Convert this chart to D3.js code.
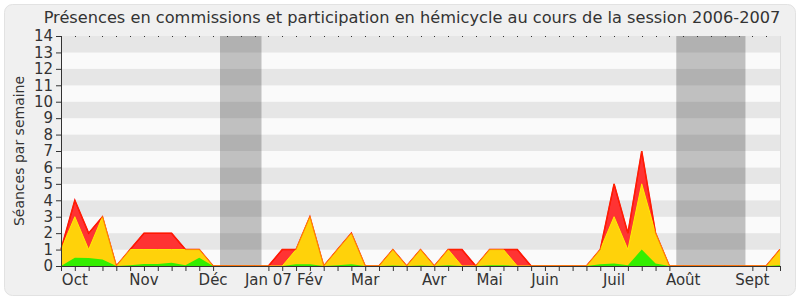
<!DOCTYPE html>
<html><head><meta charset="utf-8">
<script src="https://cdn.jsdelivr.net/npm/d3@7"></script>
<style>body{margin:0;background:#fff}svg{display:block}text{font-family:"DejaVu Sans",sans-serif;fill:#333}</style>
</head><body><svg id="c" width="800" height="300"></svg>
<script>
const title = "Présences en commissions et participation en hémicycle au cours de la session 2006-2007";
const yTitle = "Séances par semaine";
const weeks = d3.range(53);
const total = [1,4,2,3,0,1,2,2,2,1,1,0,0,0,0,0,1,1,3,0,1,2,0,0,1,0,1,0,1,1,0,1,1,1,0,0,0,0,0,1,5,2,7,2,0,0,0,0,0,0,0,0,1];
const hemi  = [1,3,1,3,0,1,1,1,1,1,1,0,0,0,0,0,0,1,3,0,1,2,0,0,1,0,1,0,1,0,0,1,1,0,0,0,0,0,0,1,3,1,5,2,0,0,0,0,0,0,0,0,1];
const comm  = [0,0.5,0.48,0.4,0,0.05,0.12,0.12,0.2,0.05,0.5,0,0,0,0,0,0,0.1,0.1,0,0.05,0.1,0,0,0.03,0,0.03,0,0.05,0,0,0.05,0.05,0,0,0,0,0,0,0.1,0.15,0.05,1,0.15,0,0,0,0,0,0,0,0,0.05];
const monthLabels = ["Oct","Nov","Déc","Jan 07","Fév","Mar","Avr","Mai","Juin","Juil","Août","Sept"];
const monthWeeks  = [1,6,11,15,18,22,27,31,35,40,45,50];
const vacations = [[11.5,14.5],[44.5,49.5]];
const yTicks = d3.range(0,15);

const svg = d3.select("#c");
const L=61,R=780,T=36,B=266;
const x = d3.scaleLinear().domain([0,52]).range([L,R]);
const y = d3.scaleLinear().domain([0,14]).range([B,T]);

svg.append("rect").attr("x",4.5).attr("y",4.5).attr("width",791).attr("height",291).attr("rx",8)
  .attr("fill","#f0f0f0").attr("stroke","#e2e2e2");

// bands
yTicks.slice(0,14).forEach(k=>{
  svg.append("rect").attr("x",L).attr("width",R-L).attr("y",y(k+1)).attr("height",y(k)-y(k+1))
    .attr("fill", k%2===1 ? "#e6e6e6" : "#fafafa");
});
// vacations
vacations.forEach(v=>{
  svg.append("rect").attr("x",x(v[0])).attr("width",x(v[1])-x(v[0])).attr("y",T).attr("height",B-T)
    .attr("fill","rgba(20,20,20,0.25)");
});

const area = d=>d3.area().x((v,i)=>x(i)).y0(y(0)).y1(v=>y(v))(d);
const line = d=>d3.line().x((v,i)=>x(i)).y(v=>y(v))(d);
svg.append("path").attr("d",area(total)).attr("fill","#ff3333");
svg.append("path").attr("d",line(total)).attr("fill","none").attr("stroke","#ff0000").attr("stroke-width",1.5);
svg.append("path").attr("d",area(hemi)).attr("fill","#ffd20a");
svg.append("path").attr("d",line(hemi)).attr("fill","none").attr("stroke","#ffee00").attr("stroke-width",1);
svg.append("path").attr("d",area(comm)).attr("fill","#33ee00");
svg.append("path").attr("d",line(total)).attr("fill","none").attr("stroke","rgba(255,60,0,0.6)").attr("stroke-width",1);

// top dots
weeks.forEach(i=>{
  svg.append("rect").attr("x",Math.round(x(i))).attr("y",T).attr("width",1).attr("height",1).attr("fill","#333");
});
svg.append("line").attr("x1",R+0.5).attr("x2",R+0.5).attr("y1",T).attr("y2",B).attr("stroke","#ddd");

// y axis
const ya = svg.append("g").attr("transform",`translate(${L},0)`)
  .call(d3.axisLeft(y).tickValues(yTicks).tickFormat(d3.format("d")).tickSize(5).tickPadding(3));
ya.select(".domain").attr("stroke","#333");
ya.selectAll(".tick line").attr("stroke","#333");
ya.selectAll("text").attr("font-size",15).attr("font-family","DejaVu Sans").attr("fill","#333");

// x axis
const xa = svg.append("g").attr("transform",`translate(0,${B})`)
  .call(d3.axisBottom(x).tickValues(weeks).tickFormat("").tickSize(5).tickSizeOuter(0));
xa.select(".domain").attr("stroke","#333");
xa.selectAll(".tick line").attr("stroke","#333");
xa.selectAll(".tick").filter(d=>vacations.some(v=>d>v[0]&&d<v[1])).remove();
monthLabels.forEach((m,j)=>{
  svg.append("text").attr("x",x(monthWeeks[j])).attr("y",285).attr("text-anchor","middle")
    .attr("font-size",15).text(m);
});

svg.append("text").attr("x",412).attr("y",23).attr("text-anchor","middle").attr("font-size",16.2).text(title);
svg.append("text").attr("transform","translate(24,151) rotate(-90)").attr("text-anchor","middle")
  .attr("font-size",14).text(yTitle);
</script></body></html>
